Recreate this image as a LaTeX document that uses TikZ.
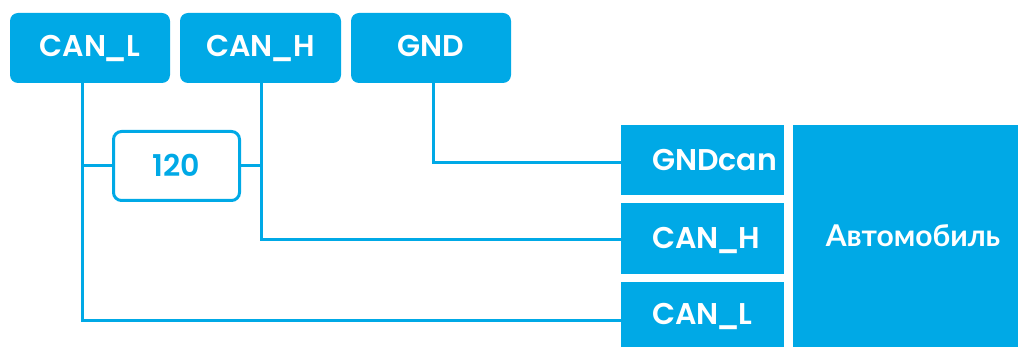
\documentclass[tikz,border=0pt]{standalone}
\usepackage{fontspec}
\setmainfont{Poppins}[UprightFont={* SemiBold}, BoldFont={* SemiBold}]
\newfontfamily\cyrfont{Lato}
\newcommand\us{\kern-2.5pt\_\kern-1pt}
\definecolor{brand}{RGB}{0,169,230}
\begin{document}
\begin{tikzpicture}[x=1pt,y=-1pt,
  lbl/.style={font=\fontsize{30}{36}\selectfont, text height=21pt, text depth=0pt, inner sep=0pt},
  topbox/.style={lbl, text depth=4pt, fill=brand, text=white, rounded corners=8pt, minimum width=160pt, minimum height=70pt},
  sidebox/.style={lbl, fill=brand, text=white, minimum width=163pt, text width=101pt, inner xsep=31pt, align=left},
  resbox/.style={lbl, text depth=-4pt, draw=brand, line width=3pt, rounded corners=8pt, text=brand, minimum width=126pt, minimum height=69pt},
  wire/.style={draw=brand, line width=3pt}]
\useasboundingbox (0,0) rectangle (1018,347);
\clip (0,0) rectangle (1018,347);
% top boxes
\node[topbox] (canl) at (90,48) {CAN\us L};
\node[topbox, minimum width=161pt] (canh) at (260.5,48) {CAN\us H};
\node[topbox] (gnd) at (431,48) {GND};
% resistor
\node[resbox] (res) at (176.5,166) {120};
% right side boxes
\node[sidebox, minimum height=70pt] (rgnd) at (702.5,160) {GNDcan};
\node[sidebox, minimum height=71pt] (rcanh) at (702.5,238.5) {CAN\us H};
\node[sidebox, minimum height=65pt] (rcanl) at (702.5,314.5) {CAN\us L};
\node[lbl, fill=brand, text=white, minimum width=240pt, minimum height=222pt, font=\fontsize{30}{36}\selectfont\cyrfont\bfseries] (car) at (913,236) {Автомобиль};
% wire corners
\coordinate (pL) at (82,321);
\coordinate (pH) at (261,240);
\coordinate (pG) at (433,163);
\draw[wire] (canl.south -| pL) -- (pL) -- (pL -| rcanl.west);
\draw[wire] (canh.south -| pH) -- (pH) -- (pH -| rcanh.west);
\draw[wire] (gnd.south -| pG) -- (pG) -- (pG -| rgnd.west);
\draw[wire] (res.west) -- (res.west -| pL);
\draw[wire] (res.east) -- (res.east -| pH);
\end{tikzpicture}
\end{document}
